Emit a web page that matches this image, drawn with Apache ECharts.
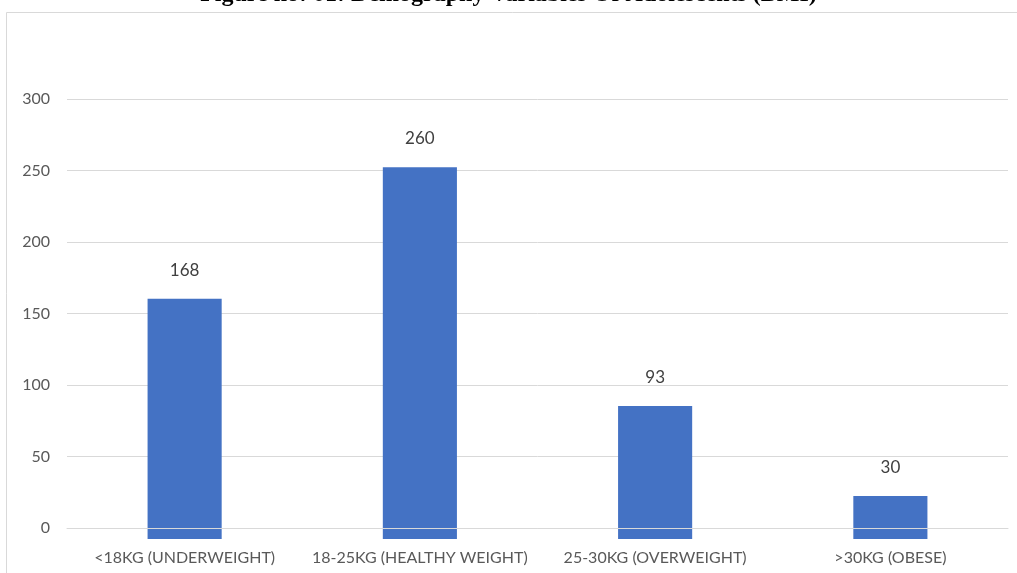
<!DOCTYPE html>
<html>
<head>
<meta charset="utf-8">
<script src="https://cdn.jsdelivr.net/npm/echarts@6/dist/echarts.min.js"></script>
<style>html,body{margin:0;padding:0;background:#fff}#c{width:1017px;height:573px}</style>
</head>
<body>
<div id="c"></div>
<script>
const titleText = 'Figure no: 01: Demography Variables Of Adolescents (BMI)';
const categories = ['<18KG (UNDERWEIGHT)', '18-25KG (HEALTHY WEIGHT)', '25-30KG (OVERWEIGHT)', '>30KG (OBESE)'];
const counts = [168, 260, 93, 30];
const yTicks = { min: 0, max: 300, interval: 50 };

const chart = echarts.init(document.getElementById('c'), null, { renderer: 'canvas' });
const labelFont = 'Lato, "Open Sans", sans-serif';
chart.setOption({
  animation: false,
  backgroundColor: '#ffffff',
  title: {
    text: titleText,
    left: 'center',
    top: -22,
    textStyle: { fontFamily: '"Liberation Serif", "Times New Roman", serif', fontWeight: 'bold', fontSize: 24, color: '#000000' }
  },
  graphic: [{
    type: 'rect',
    shape: { x: 6.5, y: 12.5, width: 1100, height: 700 },
    style: { fill: 'none', stroke: '#d9d9d9', lineWidth: 1 },
    silent: true, z: -10
  }],
  grid: [
    { left: 67, right: 9, top: 99, bottom: 45 },
    { left: 67, right: 9, top: 110, bottom: 34 }
  ],
  xAxis: [
    {
      type: 'category', gridIndex: 0, data: categories, z: 10,
      axisLine: { show: true, lineStyle: { color: '#d9d9d9', width: 1 } },
      axisTick: { show: false }, axisLabel: { show: false }
    },
    {
      type: 'category', gridIndex: 1, data: categories,
      axisLine: { show: false }, axisTick: { show: false },
      axisLabel: { show: true, interval: 0, margin: 11, fontFamily: labelFont, fontSize: 16, color: '#595959' }
    }
  ],
  yAxis: [
    {
      type: 'value', gridIndex: 0, min: yTicks.min, max: yTicks.max, interval: yTicks.interval,
      axisLine: { show: false }, axisTick: { show: false },
      axisLabel: { margin: 17, fontFamily: labelFont, fontSize: 16, color: '#595959' },
      splitLine: { lineStyle: { color: '#d9d9d9', width: 1 } }
    },
    {
      type: 'value', gridIndex: 1, min: yTicks.min, max: yTicks.max, interval: yTicks.interval,
      show: false, splitLine: { show: false }
    }
  ],
  series: [{
    type: 'bar',
    xAxisIndex: 1, yAxisIndex: 1,
    data: counts,
    barWidth: '31.5%',
    itemStyle: { color: '#4472C4' },
    label: {
      show: true, position: 'top', distance: 20,
      fontFamily: labelFont, fontSize: 17, color: '#404040'
    }
  }]
});
</script>
</body>
</html>
